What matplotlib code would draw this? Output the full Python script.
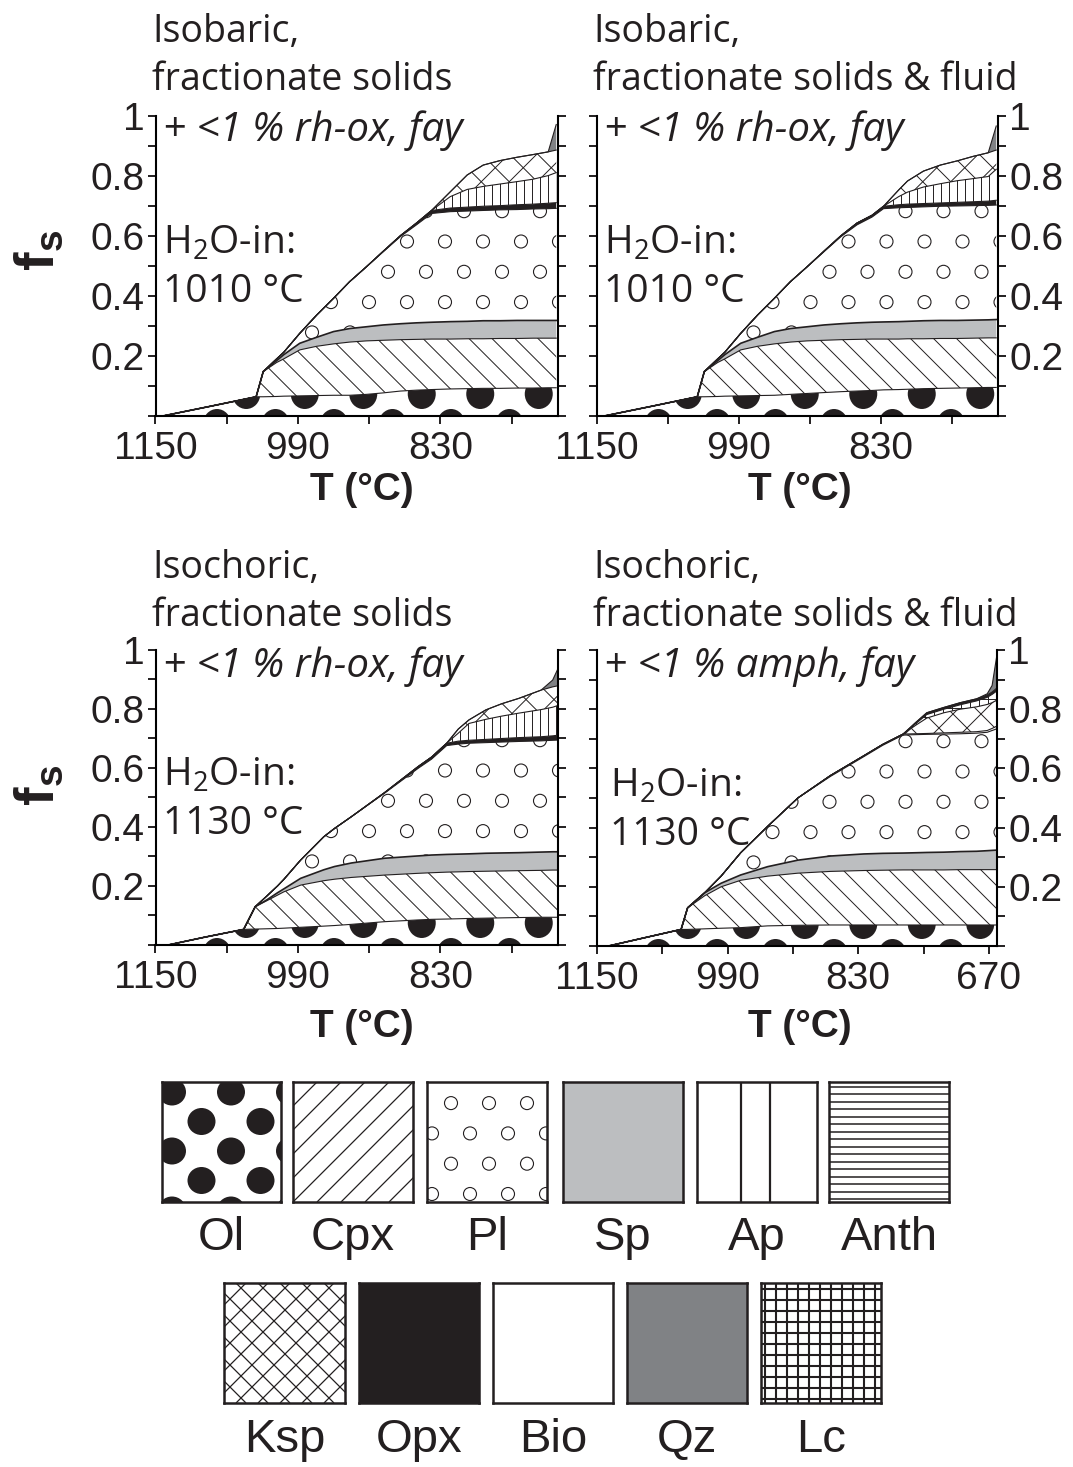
import numpy as np
import matplotlib
matplotlib.use("Agg")
import matplotlib.pyplot as plt
from matplotlib import transforms
from matplotlib.collections import LineCollection, PatchCollection
from matplotlib.patches import Ellipse

W, H = 1073, 1467

# cumulative solid fraction (top of each phase)
# panel 1: isobaric, fractionate solids
t_1 = [1142, 1089, 1037, 1029, 1014, 1006, 988, 969, 950, 932, 913, 894,
       875, 857, 840, 819, 800, 782, 763, 744, 726, 709, 700]
ol_1 = [0, .032, .064, .064, .065, .066, .067, .068, .069, .069, .072, .077,
        .083, .086, .088, .090, .091, .092, .092, .093, .093, .094, .094]
cpx_1 = [0, .032, .064, .148, .178, .190, .220, .232, .240, .246, .250, .252,
         .254, .255, .256, .256, .257, .257, .258, .258, .259, .259, .259]
sp_1 = [0, .032, .064, .148, .184, .204, .242, .262, .281, .291, .297, .303,
        .307, .310, .312, .314, .315, .317, .317, .318, .318, .318, .318]
pl_1 = [0, .032, .064, .148, .190, .212, .275, .336, .392, .447, .497, .547,
        .597, .636, .674, .680, .682, .684, .686, .687, .689, .690, .691]
opx_1 = [0, .032, .064, .148, .190, .212, .275, .336, .392, .447, .497, .549,
         .600, .642, .684, .692, .695, .698, .700, .703, .705, .708, .710]
ap_1 = [0, .032, .064, .148, .190, .212, .275, .336, .392, .447, .497, .549,
        .600, .642, .684, .730, .754, .764, .772, .780, .788, .800, .810]
ksp_1 = [0, .032, .064, .148, .190, .212, .275, .336, .392, .447, .497, .549,
         .600, .642, .684, .746, .802, .835, .850, .861, .870, .879, .885]
qz_1 = [0, .032, .064, .148, .190, .212, .275, .336, .392, .447, .497, .549,
        .600, .642, .684, .746, .802, .835, .850, .861, .870, .879, .970]

# panel 2: isobaric, fractionate solids & fluid
t_2 = [1142, 1089, 1037, 1029, 1014, 1006, 988, 969, 950, 932, 913, 894,
       875, 857, 840, 827, 810, 800, 782, 763, 744, 726, 709, 700]
ol_2 = [0, .032, .064, .064, .065, .066, .067, .068, .069, .072, .075, .078,
        .081, .083, .085, .087, .088, .089, .091, .092, .093, .094, .095, .095]
cpx_2 = [0, .032, .064, .148, .178, .190, .220, .232, .240, .246, .250, .252,
         .254, .255, .256, .256, .256, .257, .257, .258, .258, .259, .260, .260]
sp_2 = [0, .032, .064, .148, .184, .204, .242, .262, .281, .291, .297, .303,
        .307, .310, .312, .313, .314, .315, .317, .318, .318, .319, .320, .321]
pl_2 = [0, .032, .064, .148, .190, .212, .275, .336, .392, .447, .497, .547,
        .597, .636, .662, .690, .693, .694, .696, .698, .699, .700, .701, .702]
opx_2 = [0, .032, .064, .148, .190, .212, .275, .336, .392, .447, .497, .549,
         .600, .642, .668, .698, .703, .705, .707, .709, .711, .713, .715, .718]
ap_2 = [0, .032, .064, .148, .190, .212, .275, .336, .392, .447, .497, .549,
        .600, .642, .668, .698, .730, .745, .762, .773, .783, .790, .797, .821]
ksp_2 = [0, .032, .064, .148, .190, .212, .275, .336, .392, .447, .497, .549,
         .600, .642, .668, .698, .752, .782, .815, .835, .849, .864, .876, .885]
qz_2 = [0, .032, .064, .148, .190, .212, .275, .336, .392, .447, .497, .549,
        .600, .642, .668, .698, .752, .782, .815, .835, .849, .864, .876, .965]

# panel 3: isochoric, fractionate solids
t_3 = [1136, 1094, 1051, 1038, 1025, 1013, 1006, 987, 961, 949, 930, 893,
       855, 840, 823, 810, 798, 779, 761, 742, 717, 704, 696]
ol_3 = [0, .027, .053, .054, .055, .056, .057, .060, .064, .066, .070, .079,
        .085, .087, .088, .089, .090, .091, .092, .093, .094, .094, .094]
cpx_3 = [0, .027, .053, .130, .150, .169, .180, .203, .218, .223, .229, .237,
         .243, .245, .247, .248, .249, .250, .251, .252, .253, .254, .254]
sp_3 = [0, .027, .053, .130, .153, .177, .190, .226, .255, .266, .278, .294,
        .302, .305, .307, .308, .309, .311, .312, .313, .315, .316, .316]
pl_3 = [0, .027, .053, .130, .166, .200, .222, .288, .367, .395, .435, .514,
        .599, .630, .676, .681, .684, .686, .688, .690, .692, .694, .695]
opx_3 = [0, .027, .053, .130, .166, .200, .222, .288, .367, .395, .435, .516,
         .605, .637, .684, .691, .694, .697, .700, .703, .706, .709, .712]
ap_3 = [0, .027, .053, .130, .166, .200, .222, .288, .367, .395, .435, .516,
        .605, .637, .684, .718, .751, .765, .776, .786, .798, .806, .814]
ksp_3 = [0, .027, .053, .130, .166, .200, .222, .288, .367, .395, .435, .516,
         .605, .637, .684, .732, .763, .797, .818, .836, .864, .875, .880]
qz_3 = [0, .027, .053, .130, .166, .200, .222, .288, .367, .395, .435, .516,
        .605, .637, .684, .732, .763, .797, .818, .836, .864, .898, .950]

# panel 4: isochoric, fractionate solids & fluid
t_4 = [1136, 1090, 1047, 1039, 1018, 998, 974, 941, 904, 864, 823, 800,
       775, 760, 746, 725, 705, 685, 672, 666, 660]
ol_4 = [0, .029, .056, .056, .058, .060, .062, .068, .070, .071, .071, .071,
        .071, .071, .071, .071, .071, .071, .071, .071, .071]
cpx_4 = [0, .029, .056, .129, .170, .200, .222, .236, .246, .252, .255, .256,
         .257, .257, .257, .257, .258, .258, .258, .258, .258]
sp_4 = [0, .029, .056, .129, .180, .212, .240, .268, .290, .304, .311, .313,
        .314, .315, .316, .317, .319, .320, .322, .323, .324]
pl_4 = [0, .029, .056, .129, .180, .236, .315, .404, .500, .573, .640, .678,
        .713, .714, .715, .716, .717, .719, .722, .728, .734]
bio_4 = [0, .029, .056, .129, .180, .236, .315, .404, .500, .576, .643, .681,
         .716, .717, .718, .720, .722, .724, .728, .735, .743]
ksp_4 = [0, .029, .056, .129, .180, .236, .315, .404, .500, .576, .643, .681,
         .716, .745, .770, .788, .800, .808, .816, .822, .831]
lc_4 = [0, .029, .056, .129, .180, .236, .315, .404, .500, .576, .643, .681,
        .716, .750, .782, .800, .815, .828, .840, .850, .862]
opx_4 = [0, .029, .056, .129, .180, .236, .315, .404, .500, .576, .643, .681,
         .716, .754, .788, .806, .822, .835, .848, .858, .872]
qz_4 = [0, .029, .056, .129, .180, .236, .315, .404, .500, .576, .643, .681,
        .716, .754, .788, .806, .822, .835, .852, .880, .985]

legend_row1 = ["Ol", "Cpx", "Pl", "Sp", "Ap", "Anth"]
legend_row2 = ["Ksp", "Opx", "Bio", "Qz", "Lc"]

BLACK = "#231f20"
FACE = {"sp": "#bcbec0", "opx": BLACK, "qz": "#808285"}

plt.rcParams["mathtext.fontset"] = "custom"
plt.rcParams["mathtext.rm"] = "Open Sans"
plt.rcParams["mathtext.bf"] = "Liberation Sans:bold"
plt.rcParams["font.family"] = ["Liberation Sans", "DejaVu Sans"]

fig = plt.figure(figsize=(W / 100, H / 100), dpi=100)


def px_rect(left, right, top, bottom):
    return [left / W, 1 - bottom / H, (right - left) / W, (bottom - top) / H]


def ftext(x, y, s, **kw):
    fig.text(x / W, 1 - y / H, s, **kw)


def diag(w, h, sp, up):
    if up:
        return [[(c, 0), (c + h, h)] for c in np.arange(-h, w + sp, sp)]
    return [[(c, 0), (c - h, h)] for c in np.arange(0, w + h + sp, sp)]


def add_lines(ax, tr, clip, segs, lw):
    lc = LineCollection(segs, colors=BLACK, linewidths=lw, transform=tr)
    ax.add_collection(lc, autolim=False)
    lc.set_clip_path(*clip)


def add_dots(ax, tr, clip, w, h, rx, ry, dx, dy, x0, y0, filled, lw=0.8):
    ells = []
    for j, y in enumerate(np.arange(y0, h + dy, dy)):
        off = x0 + (j % 2) * dx / 2
        for x in np.arange(off - dx, w + dx, dx):
            ells.append(Ellipse((x, y), 2 * rx, 2 * ry))
    pc = PatchCollection(ells, transform=tr,
                         facecolor=BLACK if filled else "white",
                         edgecolor=BLACK, linewidth=0 if filled else lw)
    ax.add_collection(pc, autolim=False)
    pc.set_clip_path(*clip)


def pattern(ax, tr, clip, w, h, phase, legend=False):
    if phase == "ol":
        if legend:
            add_dots(ax, tr, clip, w, h, 14, 13.5, 59, 29.5, 10, -8, True)
        else:
            add_dots(ax, tr, clip, w, h, 14, 15, 58.5, 30, 61.5, -8, True)
    elif phase == "cpx":
        add_lines(ax, tr, clip, diag(w, h, 24 if legend else 23, legend),
                  0.9 if legend else 0.7)
    elif phase == "pl":
        add_dots(ax, tr, clip, w, h, 6.5, 6.5, 38, 30.3,
                 5 if legend else 4.5, 8 if legend else 23, False)
    elif phase == "ap":
        if legend:
            segs = [[(x, 0), (x, h)] for x in (44, 73)]
            add_lines(ax, tr, clip, segs, 1.6)
        else:
            segs = [[(x, 0), (x, h)] for x in np.arange(0, w, 8)]
            add_lines(ax, tr, clip, segs, 0.7)
    elif phase == "anth":
        segs = [[(0, y), (w, y)] for y in np.arange(3, h, 7.5)]
        add_lines(ax, tr, clip, segs, 1.1)
    elif phase == "ksp":
        sp = 22 if legend else 28
        add_lines(ax, tr, clip, diag(w, h, sp, True) + diag(w, h, sp, False),
                  0.9 if legend else 0.7)
    elif phase == "lc":
        sp = 11 if legend else 9
        segs = [[(x, 0), (x, h)] for x in np.arange(4, w, sp)]
        segs += [[(0, y), (w, y)] for y in np.arange(4, h, sp)]
        add_lines(ax, tr, clip, segs, 1.5 if legend else 0.7)


panels = [
    dict(rect=(155.5, 558, 115.5, 416), xlim=(1150, 698), side="left",
         xmajor=[1150, 990, 830], xminor=[1070, 910, 750], t=t_1,
         layers=[("ol", ol_1), ("cpx", cpx_1), ("sp", sp_1), ("pl", pl_1),
                 ("opx", opx_1), ("ap", ap_1), ("ksp", ksp_1), ("qz", qz_1)]),
    dict(rect=(597, 998, 115.5, 416), xlim=(1150, 698), side="right",
         xmajor=[1150, 990, 830], xminor=[1070, 910, 750], t=t_2,
         layers=[("ol", ol_2), ("cpx", cpx_2), ("sp", sp_2), ("pl", pl_2),
                 ("opx", opx_2), ("ap", ap_2), ("ksp", ksp_2), ("qz", qz_2)]),
    dict(rect=(155.5, 558, 650, 945), xlim=(1150, 698), side="left",
         xmajor=[1150, 990, 830], xminor=[1070, 910, 750], t=t_3,
         layers=[("ol", ol_3), ("cpx", cpx_3), ("sp", sp_3), ("pl", pl_3),
                 ("opx", opx_3), ("ap", ap_3), ("ksp", ksp_3), ("qz", qz_3)]),
    dict(rect=(597, 997, 650, 946), xlim=(1150, 660), side="right",
         xmajor=[1150, 990, 830, 670], xminor=[1070, 910, 750], t=t_4,
         layers=[("ol", ol_4), ("cpx", cpx_4), ("sp", sp_4), ("pl", pl_4),
                 ("bio", bio_4), ("ksp", ksp_4), ("lc", lc_4),
                 ("opx", opx_4), ("qz", qz_4)]),
]

for p in panels:
    l, r, t, b = p["rect"]
    ax = fig.add_axes(px_rect(l, r, t, b))
    w, h = r - l, b - t
    tr = transforms.Affine2D().scale(1 / w, 1 / h) + ax.transAxes
    x = p["t"]
    lo = [0] * len(x)
    for phase, top in p["layers"]:
        poly = ax.fill_between(x, lo, top, facecolor=FACE.get(phase, "white"),
                               edgecolor="none", linewidth=0)
        pattern(ax, tr, (poly.get_paths()[0], ax.transData), w, h, phase)
        lo = top
    for phase, top in p["layers"]:
        ax.plot(x, top, color=BLACK, lw=1.2 if phase == "sp" else 0.8)
    ax.set_xlim(*p["xlim"])
    ax.set_ylim(0, 1)
    ax.spines["top"].set_visible(False)
    for s in ("left", "right", "bottom"):
        ax.spines[s].set_linewidth(1.5)
    ax.set_xticks(p["xmajor"])
    ax.set_xticklabels([str(v) for v in p["xmajor"]])
    ax.set_xticks(p["xminor"], minor=True)
    ax.set_yticks([.2, .4, .6, .8, 1.0])
    ax.set_yticklabels(["0.2", "0.4", "0.6", "0.8", "1"])
    ax.set_yticks([0, .1, .3, .5, .7, .9], minor=True)
    ax.tick_params(which="both", direction="out", length=6, width=1.4,
                   left=True, right=True, labelleft=p["side"] == "left",
                   labelright=p["side"] == "right", labelsize=28,
                   colors=BLACK)
    ax.tick_params(axis="x", pad=5)
    ax.tick_params(axis="y", pad=2)

# panel texts
title_kw = dict(fontsize=27, family="Open Sans", color=BLACK)
for x0, y0, kind, extra in [(152, 42, "Isobaric,", "fractionate solids"),
                            (593, 42, "Isobaric,", "fractionate solids & fluid"),
                            (152, 578, "Isochoric,", "fractionate solids"),
                            (593, 578, "Isochoric,", "fractionate solids & fluid")]:
    ftext(x0, y0, kind, va="baseline", **title_kw)
    ftext(x0, y0 + 48, extra, va="baseline", **title_kw)

note_kw = dict(fontsize=29, family="Open Sans", style="italic", color=BLACK,
               va="baseline")
ftext(163, 141, "+ <1 % rh-ox, fay", **note_kw)
ftext(604, 141, "+ <1 % rh-ox, fay", **note_kw)
ftext(163, 677, "+ <1 % rh-ox, fay", **note_kw)
ftext(604, 677, "+ <1 % amph, fay", **note_kw)

h2o_kw = dict(fontsize=28, family="Open Sans", color=BLACK, va="baseline")
for x0, y0, temp in [(163, 254, "1010 °C"), (604, 254, "1010 °C"),
                     (163, 786, "1130 °C"), (610, 797, "1130 °C")]:
    ftext(x0, y0, r"H$_{\mathrm{2}}$O-in:", **h2o_kw)
    ftext(x0, y0 + 48, temp, **h2o_kw)

for y0 in (250, 785):
    ftext(40, y0, r"$\mathbf{f}_{\mathbf{s}}$", fontsize=40, rotation=90,
          ha="center", va="center", color=BLACK)
for x0, y0 in [(362, 490), (800, 490), (362, 1027), (800, 1027)]:
    ftext(x0, y0, "T (°C)", fontsize=28, fontweight="bold", ha="center",
          va="center", color=BLACK)

# legend boxes
row1_x = [(162, 281), (293, 413), (427, 547), (563, 683), (697, 817), (829, 949)]
row2_x = [(224, 345), (359, 479), (493, 613), (627, 747), (761, 881)]
leg_font = ["Liberation Sans Narrow", "Liberation Sans"]
for names, xs, top, bottom, ly in [(legend_row1, row1_x, 1082, 1202, 1238),
                                   (legend_row2, row2_x, 1283, 1403, 1440)]:
    for name, (l, r) in zip(names, xs):
        ax = fig.add_axes(px_rect(l, r, top, bottom))
        w, h = r - l, bottom - top
        ax.set_xlim(0, w)
        ax.set_ylim(0, h)
        ax.set_xticks([])
        ax.set_yticks([])
        phase = name.lower()
        ax.set_facecolor(FACE.get(phase, "white"))
        for s in ax.spines.values():
            s.set_linewidth(1.8)
            s.set_color(BLACK)
        pattern(ax, ax.transData, (ax.patch,), w, h, phase, legend=True)
        ftext((l + r) / 2, ly, name, fontsize=34, family=leg_font,
              ha="center", va="center", color=BLACK)

fig.savefig("out.png", dpi=100)
